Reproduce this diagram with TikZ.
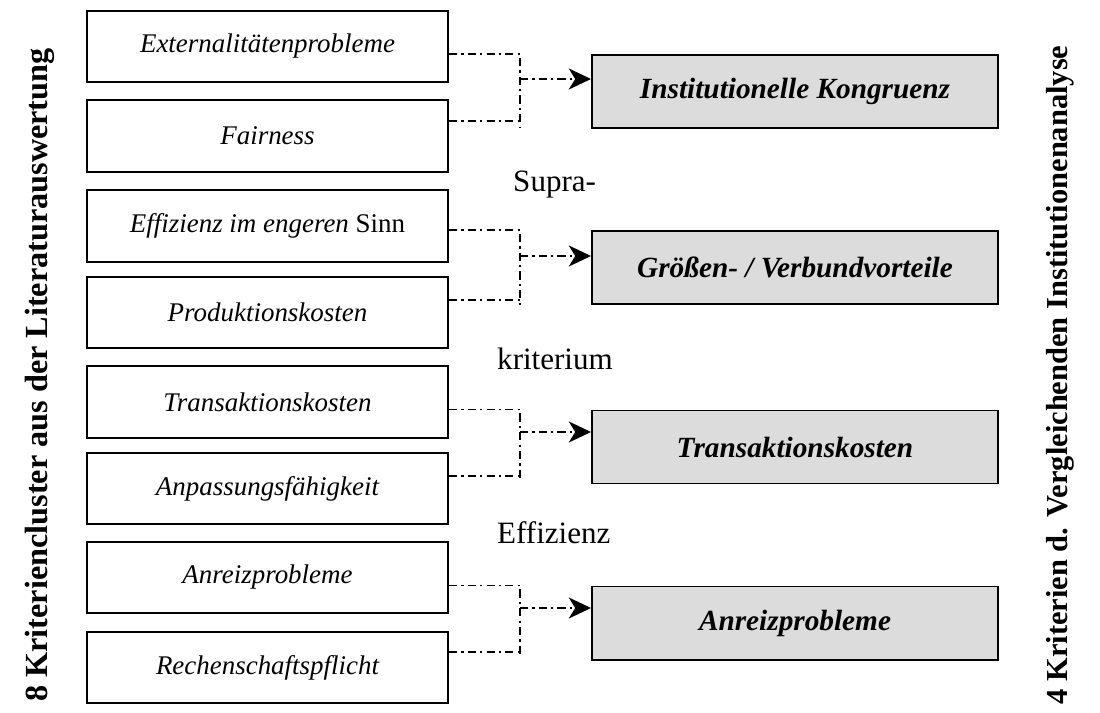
\documentclass[tikz,border=0pt]{standalone}
\usepackage{fontspec}
\setmainfont{Liberation Serif}
\usetikzlibrary{arrows.meta}
\usetikzlibrary{positioning}
\definecolor{boxgray}{RGB}{220,220,220}

\begin{document}
\begin{tikzpicture}[x=0.03cm, y=-0.03cm,
    critbox/.style={draw, line width=1.7pt, minimum width=10.83cm, minimum height=2.15cm, font=\fontsize{23}{27}\selectfont\itshape},
    mainbox/.style={draw, line width=1.7pt, fill=boxgray, minimum width=12.18cm, minimum height=2.19cm, font=\fontsize{25}{30}\selectfont\bfseries\itshape},
    conn/.style={line width=1.3pt, dash pattern=on 7pt off 3.6pt on 1.8pt off 3.6pt},
    arr/.style={conn, -{Stealth[length=19pt, width=18pt, inset=5.5pt]}},
    sidetitle/.style={rotate=90, font=\fontsize{27.5}{32}\selectfont\bfseries},
    midtext/.style={anchor=base west, inner sep=0pt, font=\fontsize{26.5}{31}\selectfont}]
    \useasboundingbox (0,0) rectangle (1100,713);

    % 8 criteria clusters
    \node[critbox] (ext) at (267.5,46.5) {Externalitätenprobleme};
    \node[critbox] (fair) at (267.5,136) {Fairness};
    \node[critbox] (eff) at (267.5,226) {Effizienz im engeren \textup{Sinn}};
    \node[critbox] (prod) at (267.5,312.5) {Produktionskosten};
    \node[critbox] (trans) at (267.5,402) {Transaktionskosten};
    \node[critbox] (anpass) at (267.5,488.5) {Anpassungsfähigkeit};
    \node[critbox] (anreiz) at (267.5,577.5) {Anreizprobleme};
    \node[critbox] (rechen) at (267.5,667.5) {Rechenschaftspflicht};

    % 4 criteria
    \node[mainbox] (kongr) at (795,91.5) {Institutionelle Kongruenz};
    \node[mainbox] (groesse) at (795,267.5) {Größen- / Verbundvorteile};
    \node[mainbox] (tkost) at (795,447) {Transaktionskosten};
    \node[mainbox] (areiz) at (795,623) {Anreizprobleme};

    % junctions
    \coordinate (j1) at (520,79);
    \coordinate (j2) at (520,256);
    \coordinate (j3) at (520,432);
    \coordinate (j4) at (520,608);

    \draw[conn] (ext.east |- kongr.north) -| ([yshift=0.27cm]fair.east -| j1);
    \draw[conn] ([yshift=0.45cm]fair.east) -- ([yshift=0.45cm]fair.east -| j1);
    \draw[arr] (j1) -- (j1 -| kongr.west);

    \draw[conn] (eff.east |- groesse.north) -| ([yshift=0.2cm]prod.east -| j2);
    \draw[conn] ([yshift=0.38cm]prod.east) -- ([yshift=0.38cm]prod.east -| j2);
    \draw[arr] (j2) -- (j2 -| groesse.west);

    \draw[conn] (trans.east |- tkost.north) -| ([yshift=0.2cm]anpass.east -| j3);
    \draw[conn] ([yshift=0.38cm]anpass.east) -- ([yshift=0.38cm]anpass.east -| j3);
    \draw[arr] (j3) -- (j3 -| tkost.west);

    \draw[conn] (anreiz.east |- areiz.north) -| ([yshift=0.29cm]rechen.east -| j4);
    \draw[conn] ([yshift=0.47cm]rechen.east) -- ([yshift=0.47cm]rechen.east -| j4);
    \draw[arr] (j4) -- (j4 -| areiz.west);

    % Supra-kriterium Effizienz
    \node[midtext] (supra) at (513,192) {Supra-};
    \node[midtext] (krit) at (497,369) {kriterium};
    \node[midtext] (effiz) at (497,543) {Effizienz};

    \node[sidetitle] (lefttitle) at (40,375) {8 Kriteriencluster aus der Literaturauswertung};
    \node[sidetitle, font=\fontsize{26}{30}\selectfont\bfseries] (righttitle) at (1060,375) {4 Kriterien d. Vergleichenden Institutionenanalyse};
\end{tikzpicture}
\end{document}
